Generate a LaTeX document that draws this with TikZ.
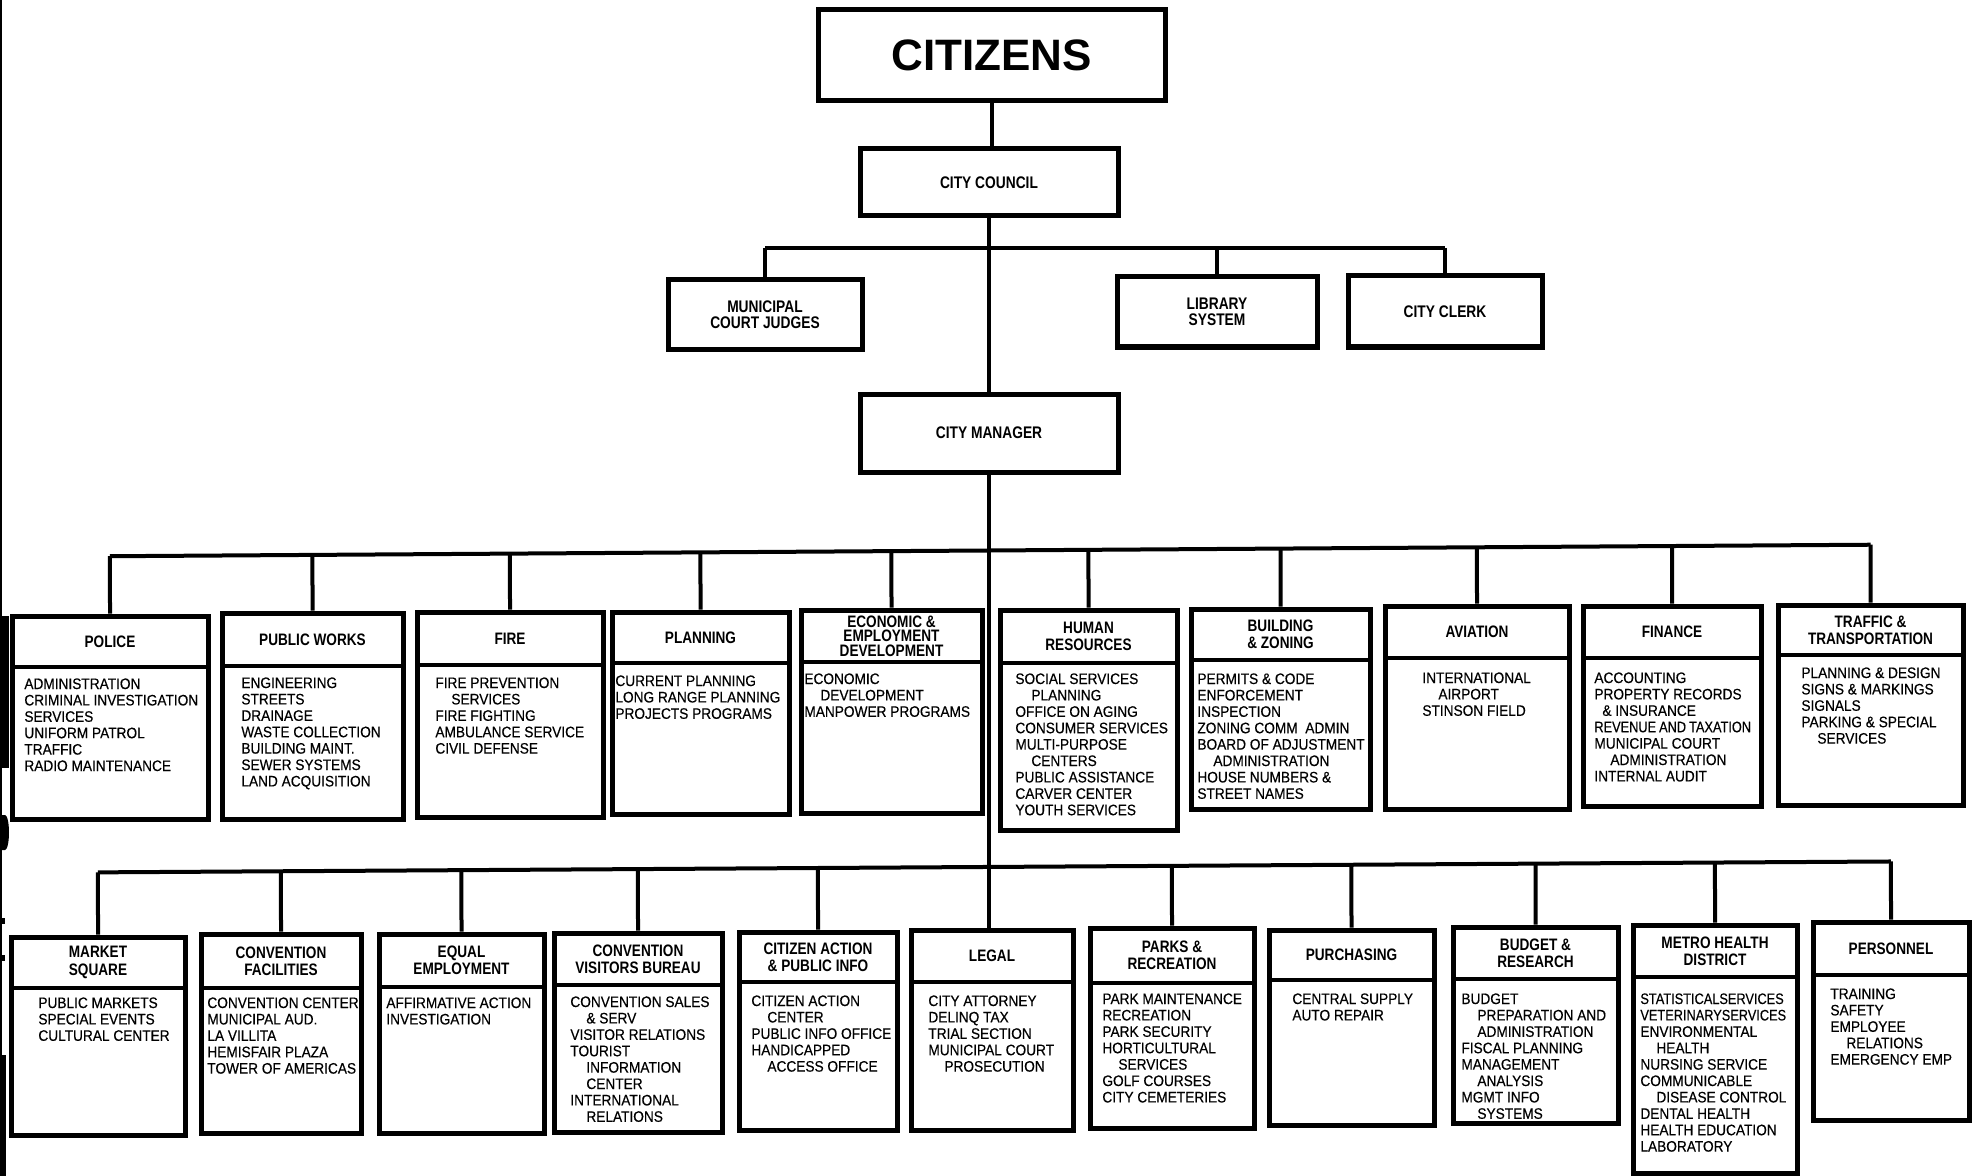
\documentclass[tikz,border=0pt]{standalone}
\usepackage{fontspec}
\setmainfont{Liberation Sans}
\newfontfamily\hdfam{Liberation Sans}[FakeStretch=0.82]
\newfontfamily\bdfam{Liberation Sans}[FakeStretch=0.9, FakeBold=0.4]
\newfontfamily\bdfamn{Liberation Sans}[FakeStretch=0.84, FakeBold=0.4]
\usetikzlibrary{fit}
\newcommand{\subin}{\hspace*{8pt}}
\tikzset{
  x=0.5pt, y=-0.5pt,
  dbox/.style={draw, line width=2.5pt, inner sep=0pt, rectangle},
  divline/.style={line width=2.3pt},
  conn/.style={line width=2pt},
  hdr/.style={font=\hdfam\bfseries\fontsize{8.3pt}{8.6pt}\selectfont, align=center, inner sep=0pt},
  bodytxt/.style={font=\bdfam\fontsize{7.6pt}{8.2pt}\selectfont, align=left, inner sep=0pt, anchor=north west},
  topbox/.style={draw, line width=2.5pt, inner sep=0pt, rectangle},
  toptxt/.style={align=center, inner sep=0pt, font=\hdfam\bfseries\fontsize{8.4pt}{8.2pt}\selectfont},
  scan/.style={fill=black, draw=none}
}
\newcommand{\deptbox}[8][]{%
  \node[dbox, fit={(#3,#4) (#5,#6)}] (#2) {};
  \draw[divline] (#3,#7) -- (#5,#7);
  \node[hdr,#1] (#2-h) at ({(#3+#5)/2},{(#4+#7)/2}) {#8};
}
\newcommand{\deptbody}[4]{%
  \node[bodytxt] (#1-b) at (#2,#3) {#4};
}
\begin{document}
\begin{tikzpicture}
\useasboundingbox (0,0) rectangle (1973,1176);
\fill[white] (0,0) rectangle (1973,1176);

% scan edge artefacts
\fill[scan] (0,0) rectangle (1.5,1176);
\fill[scan] (0,616) rectangle (9,768);
\fill[scan] (0,815) rectangle (5,850) arc[start angle=-90, end angle=90, x radius=4, y radius=-17.5];
\fill[scan] (0,918) rectangle (5,924);
\fill[scan] (0,955) rectangle (5,961);
\fill[scan] (0,1055) rectangle (6,1176);

% top tier
\node[topbox, fit={(818,10) (1165,101)}] (citizens) {};
\node[font=\bfseries\fontsize{22pt}{24pt}\selectfont, inner sep=0pt] (citizens-t) at (citizens.center) {CITIZENS};
\node[topbox, fit={(860,149) (1118,216)}] (council) {};
\node[toptxt] (council-t) at (council.center) {CITY COUNCIL};
\node[topbox, fit={(668,280) (862,349)}] (mcj) {};
\node[toptxt] (mcj-t) at (mcj.center) {MUNICIPAL\\COURT JUDGES};
\node[topbox, fit={(1117,277) (1317,347)}] (library) {};
\node[toptxt] (library-t) at (library.center) {LIBRARY\\SYSTEM};
\node[topbox, fit={(1348,276) (1542,347)}] (clerk) {};
\node[toptxt] (clerk-t) at (clerk.center) {CITY CLERK};
\node[topbox, fit={(860,394) (1118,472)}] (manager) {};
\node[toptxt] (manager-t) at (manager.center) {CITY MANAGER};

% tier 3 departments
\deptbox{police}{12}{616}{208}{819}{667}{POLICE}
\deptbox{pubworks}{222}{613}{403}{819}{666}{PUBLIC WORKS}
\deptbox{fire}{417}{612}{603}{817}{665}{FIRE}
\deptbox{planning}{612}{612}{789}{814}{663}{PLANNING}
\deptbox[font=\hdfam\bfseries\fontsize{8.3pt}{7.2pt}\selectfont]{econ}{801}{610}{982}{813}{662}{ECONOMIC \&\\EMPLOYMENT\\DEVELOPMENT}
\deptbox{hr}{1000}{610}{1177}{830}{663}{HUMAN\\RESOURCES}
\deptbox{bldg}{1191}{609}{1370}{809}{660}{BUILDING\\\& ZONING}
\deptbox{aviation}{1385}{606}{1569}{809}{658}{AVIATION}
\deptbox{finance}{1583}{606}{1761}{806}{658}{FINANCE}
\deptbox{traffic}{1778}{605}{1963}{805}{655}{TRAFFIC \&\\TRANSPORTATION}

\deptbody{police}{24}{678}{ADMINISTRATION\\CRIMINAL INVESTIGATION\\SERVICES\\UNIFORM PATROL\\TRAFFIC\\RADIO MAINTENANCE}
\deptbody{pubworks}{241}{677}{ENGINEERING\\STREETS\\DRAINAGE\\WASTE COLLECTION\\BUILDING MAINT.\\SEWER SYSTEMS\\LAND ACQUISITION}
\deptbody{fire}{435}{677}{FIRE PREVENTION\\\subin SERVICES\\FIRE FIGHTING\\AMBULANCE SERVICE\\CIVIL DEFENSE}
\deptbody{planning}{615}{675}{CURRENT PLANNING\\LONG RANGE PLANNING\\PROJECTS PROGRAMS}
\deptbody{econ}{804}{673}{ECONOMIC\\\subin DEVELOPMENT\\MANPOWER PROGRAMS}
\deptbody{hr}{1015}{673}{SOCIAL SERVICES\\\subin PLANNING\\OFFICE ON AGING\\CONSUMER SERVICES\\MULTI-PURPOSE\\\subin CENTERS\\PUBLIC ASSISTANCE\\CARVER CENTER\\YOUTH SERVICES}
\deptbody{bldg}{1197}{673}{PERMITS \& CODE\\ENFORCEMENT\\INSPECTION\\ZONING COMM\ \ ADMIN\\BOARD OF ADJUSTMENT\\\subin ADMINISTRATION\\HOUSE NUMBERS \&\\STREET NAMES}
\deptbody{aviation}{1422}{672}{INTERNATIONAL\\\subin AIRPORT\\STINSON FIELD}
\deptbody{finance}{1594}{672}{ACCOUNTING\\PROPERTY RECORDS\\\hspace*{4pt}\& INSURANCE\\{\bdfamn REVENUE\hspace{1.5pt}AND\hspace{1.5pt}TAXATION}\\MUNICIPAL COURT\\\subin ADMINISTRATION\\INTERNAL AUDIT}
\deptbody{traffic}{1801}{667}{PLANNING \& DESIGN\\SIGNS \& MARKINGS\\SIGNALS\\PARKING \& SPECIAL\\\subin SERVICES}

% tier 4 departments
\deptbox{market}{11}{937}{185}{1135}{988}{MARKET\\SQUARE}
\deptbox{convfac}{201}{934}{361}{1133}{988}{CONVENTION\\FACILITIES}
\deptbox{equal}{379}{934}{544}{1133}{987}{EQUAL\\EMPLOYMENT}
\deptbox{cvb}{554}{933}{722}{1132}{985}{CONVENTION\\VISITORS BUREAU}
\deptbox{citizen}{739}{932}{897}{1130}{982}{CITIZEN ACTION\\\& PUBLIC INFO}
\deptbox{legal}{911}{930}{1073}{1130}{982}{LEGAL}
\deptbox{parks}{1090}{928}{1254}{1128}{983}{PARKS \&\\RECREATION}
\deptbox{purchasing}{1269}{930}{1434}{1125}{980}{PURCHASING}
\deptbox{budget}{1453}{927}{1618}{1123}{979}{BUDGET \&\\RESEARCH}
\deptbox{metro}{1633}{925}{1797}{1173}{977}{METRO HEALTH\\DISTRICT}
\deptbox{personnel}{1813}{922}{1969}{1120}{975}{PERSONNEL}

\deptbody{market}{38}{997}{PUBLIC MARKETS\\SPECIAL EVENTS\\CULTURAL CENTER}
\deptbody{convfac}{207}{997}{CONVENTION CENTER\\MUNICIPAL AUD.\\LA VILLITA\\HEMISFAIR PLAZA\\TOWER OF AMERICAS}
\deptbody{equal}{386}{997}{AFFIRMATIVE ACTION\\INVESTIGATION}
\deptbody{cvb}{570}{996}{CONVENTION SALES\\\subin\& SERV\\VISITOR RELATIONS\\TOURIST\\\subin INFORMATION\\\subin CENTER\\INTERNATIONAL\\\subin RELATIONS}
\deptbody{citizen}{751}{995}{CITIZEN ACTION\\\subin CENTER\\PUBLIC INFO OFFICE\\HANDICAPPED\\\subin ACCESS OFFICE}
\deptbody{legal}{928}{995}{CITY ATTORNEY\\DELINQ TAX\\TRIAL SECTION\\MUNICIPAL COURT\\\subin PROSECUTION}
\deptbody{parks}{1102}{993}{PARK MAINTENANCE\\RECREATION\\PARK SECURITY\\HORTICULTURAL\\\subin SERVICES\\GOLF COURSES\\CITY CEMETERIES}
\deptbody{purchasing}{1292}{993}{CENTRAL SUPPLY\\AUTO REPAIR}
\deptbody{budget}{1461}{993}{BUDGET\\\subin PREPARATION AND\\\subin ADMINISTRATION\\FISCAL PLANNING\\MANAGEMENT\\\subin ANALYSIS\\MGMT INFO\\\subin SYSTEMS}
\deptbody{metro}{1640}{993}{{\bdfamn STATISTICALSERVICES}\\{\bdfamn VETERINARYSERVICES}\\ENVIRONMENTAL\\\subin HEALTH\\NURSING SERVICE\\COMMUNICABLE\\\subin DISEASE CONTROL\\DENTAL HEALTH\\HEALTH EDUCATION\\LABORATORY}
\deptbody{personnel}{1830}{988}{TRAINING\\SAFETY\\EMPLOYEE\\\subin RELATIONS\\EMERGENCY EMP}

% connectors
\coordinate (bar2) at (990,248);
\coordinate (b3L) at (0,557);
\coordinate (b3R) at (1973,544);
\coordinate (b4L) at (0,873);
\coordinate (b4R) at (1973,861);

\draw[conn] (citizens.south) -- (citizens.south |- council.north);
\draw[conn] (council.south) -- (council.south |- manager.north);
\draw[conn] (mcj.north |- bar2) -- (clerk.north |- bar2);
\foreach \n in {mcj,library,clerk} \draw[conn] (\n.north) -- (\n.north |- bar2);

\draw[conn] (manager.south) -- (manager.south |- legal.north);
\draw[conn] (intersection of b3L--b3R and police.north--police.south) -- (intersection of b3L--b3R and traffic.north--traffic.south);
\foreach \n in {police,pubworks,fire,planning,econ,hr,bldg,aviation,finance,traffic}
  \draw[conn] (\n.north) -- (intersection of b3L--b3R and \n.north--\n.south);

\draw[conn] (intersection of b4L--b4R and market.north--market.south) -- (intersection of b4L--b4R and personnel.north--personnel.south);
\foreach \n in {market,convfac,equal,cvb,citizen,parks,purchasing,budget,metro,personnel}
  \draw[conn] (\n.north) -- (intersection of b4L--b4R and \n.north--\n.south);
\end{tikzpicture}
\end{document}
